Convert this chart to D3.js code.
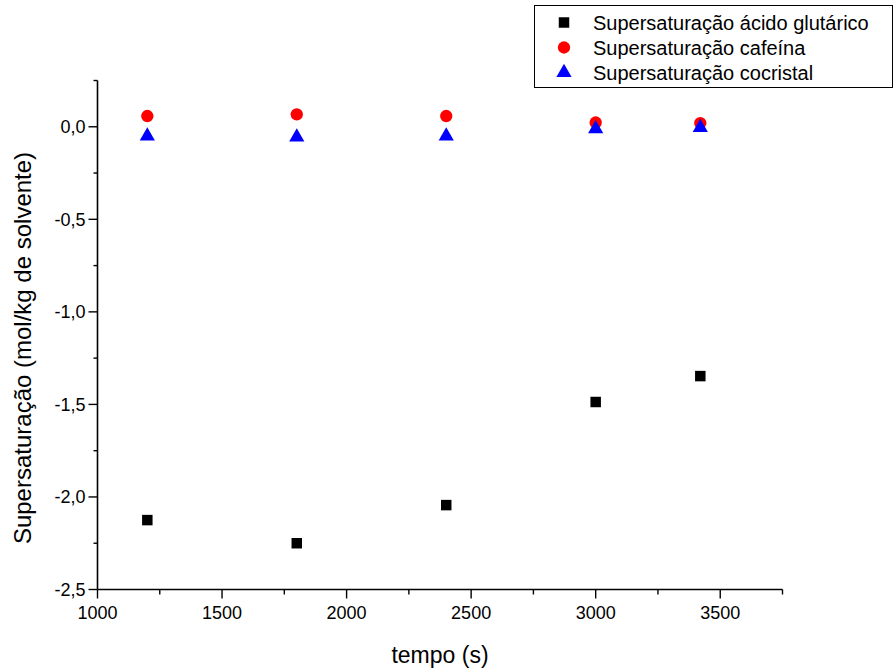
<!DOCTYPE html>
<html><head><meta charset="utf-8">
<script src="https://cdn.jsdelivr.net/npm/d3@7"></script>
<style>body{margin:0;background:#fff}svg{font-family:"Liberation Sans",Arial,sans-serif}</style>
</head><body><svg id="c" width="896" height="670"></svg>
<script>
const tempo = [1200, 1800, 2400, 3000, 3420];
const acidoGlutarico = [-2.125, -2.25, -2.044, -1.487, -1.347];
const cafeina = [0.058, 0.067, 0.058, 0.023, 0.02];
const cocristal = [-0.05, -0.056, -0.05, -0.011, -0.004];
const xTicks = [1000, 1500, 2000, 2500, 3000, 3500];
const yTicks = [0, -0.5, -1.0, -1.5, -2.0, -2.5];
const seriesNames = ["Supersaturação ácido glutárico", "Supersaturação cafeína", "Supersaturação cocristal"];

const svg = d3.select("#c");
const x = d3.scaleLinear().domain([1000, 3750]).range([97.5, 782.5]);
const y = d3.scaleLinear().domain([-2.5, 0.25]).range([589.5, 80.5]);
const fmt = d => d3.format(".1f")(d).replace(".", ",").replace("−", "-");

// x axis
const gx = svg.append("g").attr("transform", `translate(0,${y(-2.5)})`);
gx.append("line").attr("x1", x(1000)).attr("x2", x(3750)).attr("stroke", "#000").attr("stroke-width", 1.6);
d3.range(1000, 3751, 250).forEach(v => {
  const major = v % 500 === 0;
  gx.append("line").attr("x1", x(v)).attr("x2", x(v)).attr("y1", 0).attr("y2", major ? 9 : 5).attr("stroke", "#000").attr("stroke-width", 1.4);
});
xTicks.forEach(v => gx.append("text").attr("x", x(v)).attr("y", 29).attr("text-anchor", "middle").attr("font-size", 18).text(v));

// y axis
const gy = svg.append("g").attr("transform", `translate(${x(1000)},0)`);
gy.append("line").attr("y1", y(-2.5)).attr("y2", y(0.25)).attr("stroke", "#000").attr("stroke-width", 1.6);
d3.range(-2.5, 0.26, 0.25).forEach(v => {
  const major = Math.abs(Math.round(v * 2) - v * 2) < 1e-6;
  gy.append("line").attr("y1", y(v)).attr("y2", y(v)).attr("x1", 0).attr("x2", major ? -9 : -4).attr("stroke", "#000").attr("stroke-width", 1.4);
});
yTicks.forEach(v => gy.append("text").attr("x", -12).attr("y", y(v)).attr("dy", "0.35em").attr("text-anchor", "end").attr("font-size", 18).text(fmt(v)));

// titles
svg.append("text").attr("x", (x(1000) + x(3750)) / 2).attr("y", 663).attr("text-anchor", "middle").attr("font-size", 23).text("tempo (s)");
svg.append("text").attr("transform", `translate(31,348) rotate(-90)`).attr("text-anchor", "middle").attr("font-size", 24).text("Supersaturação (mol/kg de solvente)");

// markers
const sq = d3.symbol().type(d3.symbolSquare).size(110);
const ci = d3.symbol().type(d3.symbolCircle).size(120);
const tr = d3.symbol().type(d3.symbolTriangle).size(100);
svg.append("g").selectAll("path").data(tempo).join("path")
  .attr("d", sq).attr("transform", (d, i) => `translate(${x(d)},${y(acidoGlutarico[i])})`).attr("fill", "#000");
svg.append("g").selectAll("path").data(tempo).join("path")
  .attr("d", ci).attr("transform", (d, i) => `translate(${x(d)},${y(cafeina[i])})`).attr("fill", "#ff0000");
svg.append("g").selectAll("path").data(tempo).join("path")
  .attr("d", tr).attr("transform", (d, i) => `translate(${x(d)},${y(cocristal[i])})`).attr("fill", "#0000ff");

// legend
const lg = svg.append("g");
lg.append("rect").attr("x", 534.5).attr("y", 5.5).attr("width", 358).attr("height", 82).attr("fill", "#fff").attr("stroke", "#000").attr("stroke-width", 1);
const syms = [sq, ci, tr], cols = ["#000", "#ff0000", "#0000ff"];
seriesNames.forEach((n, i) => {
  const yy = 22.5 + i * 25;
  lg.append("path").attr("d", syms[i]).attr("transform", `translate(564,${yy})`).attr("fill", cols[i]);
  lg.append("text").attr("x", 593).attr("y", yy).attr("dy", "0.35em").attr("font-size", 20).text(n);
});
</script></body></html>
